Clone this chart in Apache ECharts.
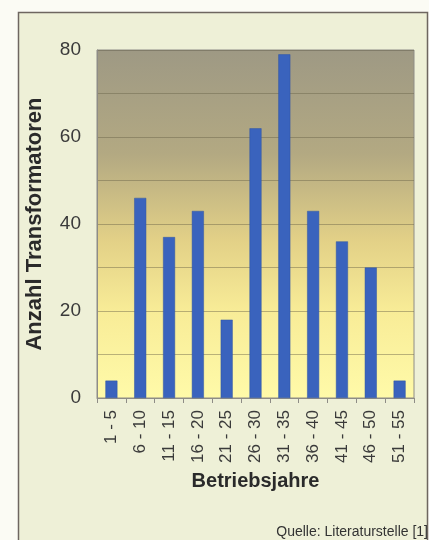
<!DOCTYPE html>
<html>
<head>
<meta charset="utf-8">
<style>
  html, body { margin: 0; padding: 0; background: #fbfbf4; }
  #chart { width: 429px; height: 540px; }
</style>
<script src="https://cdn.jsdelivr.net/npm/echarts@6/dist/echarts.min.js"></script>
</head>
<body>
<div id="chart"></div>
<script>
// Age classes of transformers (operating years) and their counts
const categories = ['1 - 5', '6 - 10', '11 - 15', '16 - 20', '21 - 25', '26 - 30',
                    '31 - 35', '36 - 40', '41 - 45', '46 - 50', '51 - 55'];
const counts = [4, 46, 37, 43, 18, 62, 79, 43, 36, 30, 4];
const yTickLabels = ['0', '20', '40', '60', '80'];

const chart = echarts.init(document.getElementById('chart'), null, { renderer: 'canvas' });

const font = '"Liberation Sans", Arial, sans-serif';

chart.setOption({
  backgroundColor: 'transparent',
  graphic: [
    {
      type: 'rect',
      z: -10,
      shape: { x: 18.5, y: 12.5, width: 409, height: 540 },
      style: { fill: '#eef0d7', stroke: '#6e6660', lineWidth: 1.5 }
    },
    {
      type: 'text',
      right: 1,
      bottom: 1,
      style: {
        text: 'Quelle: Literaturstelle [1]',
        font: '14px ' + font,
        fill: '#333333'
      }
    }
  ],
  grid: {
    left: 97,
    top: 50,
    right: 15,
    bottom: 142,
    show: true,
    borderColor: '#8e8c86',
    borderWidth: 1,
    backgroundColor: new echarts.graphic.LinearGradient(0, 0, 0, 1, [
      { offset: 0, color: '#9e9984' },
      { offset: 0.3, color: '#b3a982' },
      { offset: 0.55, color: '#e3d187' },
      { offset: 0.75, color: '#f8ec97' },
      { offset: 1, color: '#fffaa9' }
    ])
  },
  xAxis: {
    type: 'category',
    data: categories,
    name: 'Betriebsjahre',
    nameLocation: 'middle',
    nameGap: 73,
    nameTextStyle: { fontFamily: font, fontSize: 20, fontWeight: 'bold', color: '#2a2a2a' },
    axisLine: { lineStyle: { color: '#8e8c86', width: 1 } },
    axisTick: { show: true, length: 5, lineStyle: { color: '#8e8c86' } },
    axisLabel: {
      rotate: 90,
      margin: 12,
      fontFamily: font,
      fontSize: 17,
      color: '#3a3a3a',
      interval: 0
    }
  },
  yAxis: {
    type: 'value',
    min: 0,
    max: 80,
    interval: 10,
    name: 'Anzahl Transformatoren',
    nameLocation: 'middle',
    nameGap: 51,
    nameTextStyle: { fontFamily: font, fontSize: 22, fontWeight: 'bold', color: '#2a2a2a' },
    axisLine: { show: true, lineStyle: { color: '#8e8c86' } },
    axisTick: { show: false },
    splitLine: { show: true, lineStyle: { color: 'rgba(105,98,72,0.45)', width: 1 } },
    axisLabel: {
      margin: 16,
      fontFamily: font,
      fontSize: 19,
      color: '#3a3a3a',
      formatter: function (v) {
        const s = String(v);
        return yTickLabels.indexOf(s) >= 0 ? s : '';
      }
    }
  },
  series: [{
    type: 'bar',
    data: counts,
    barWidth: 12,
    itemStyle: { color: '#3a63bd', borderColor: '#2f55a4', borderWidth: 0.5 }
  }]
});
</script>
</body>
</html>
